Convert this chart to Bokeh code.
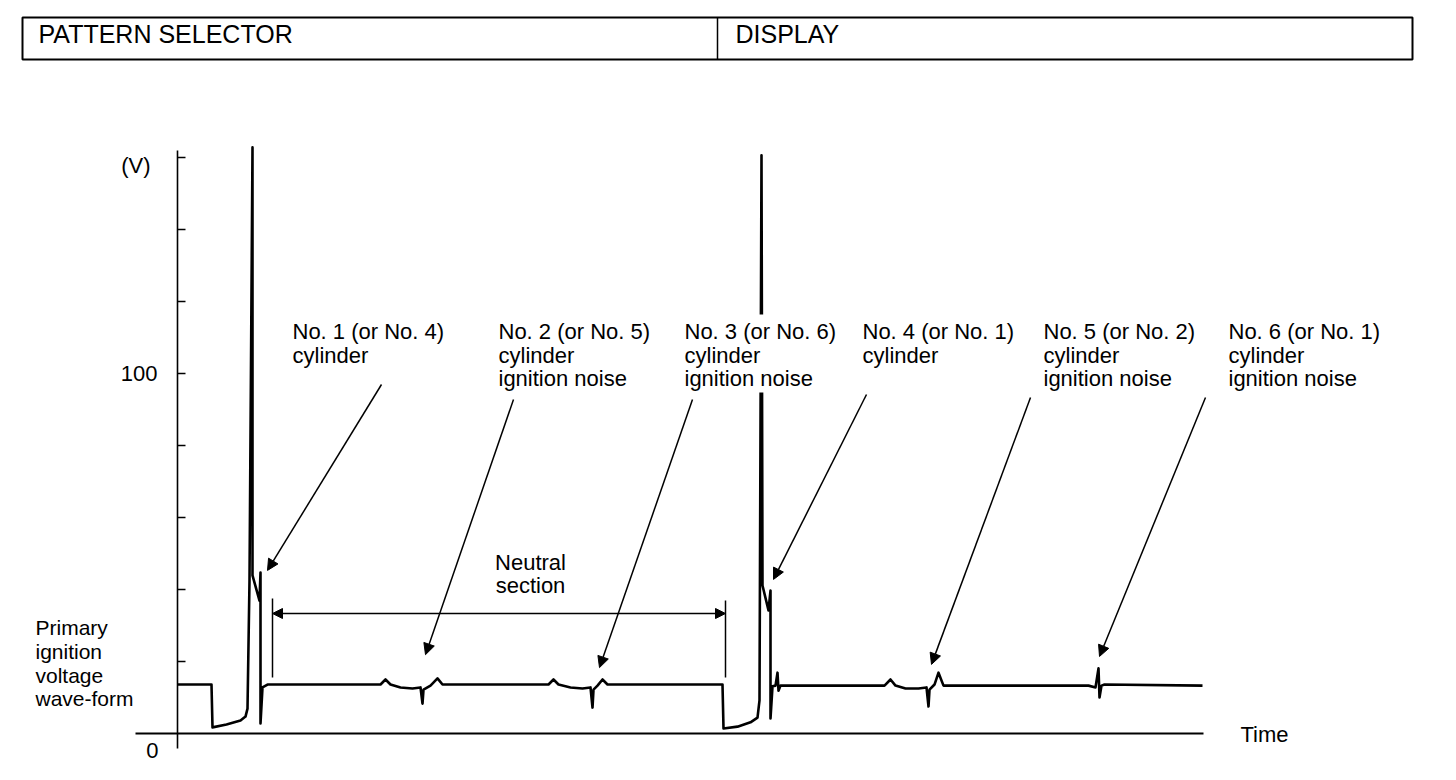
from bokeh.plotting import figure
from bokeh.models import Range1d, Arrow, NormalHead, ColumnDataSource
from bokeh.core.properties import value
from bokeh.embed import file_html
from bokeh.resources import INLINE

# ---------------- data (time in arbitrary units, voltage in V) ----------------
wave_time = [0, 34, 35, 49, 63, 68, 70, 72, 75, 75, 82, 83, 83, 85, 90,
             203, 208, 213, 223, 235, 243, 245, 246, 253, 260, 265,
             371, 376, 381, 393, 405, 413, 415, 416, 420, 425, 430,
             545, 546, 560, 573, 580, 582, 584, 585, 591, 593, 593, 595,
             598, 600, 601, 603,
             707, 713, 718, 728, 741, 749, 751, 752, 757, 761, 766,
             911, 918, 921, 922, 924, 927, 1025]
wave_volts = [13.6, 13.6, 1.7, 2.5, 3.6, 4.7, 6.9, 42.5, 162.8, 43.9, 36.9, 44.7, 2.8, 12.8, 13.6,
              13.6, 15.0, 13.6, 12.8, 12.5, 12.8, 8.3, 12.2, 13.3, 15.3, 13.6,
              13.6, 15.0, 13.6, 12.8, 12.5, 12.8, 7.2, 12.2, 13.3, 15.0, 13.6,
              13.6, 1.4, 1.9, 3.1, 4.4, 9.2, 160.6, 41.1, 34.2, 39.7, 4.2, 13.1,
              13.3, 16.9, 11.9, 13.3,
              13.3, 15.0, 13.3, 12.5, 12.5, 12.8, 7.5, 12.2, 13.6, 16.9, 13.3,
              13.3, 12.8, 18.1, 10.0, 13.3, 13.6, 13.3]

tick_values = [20, 40, 60, 80, 100, 120, 140, 160]
tick_label_values = [0, 100, 160]
tick_labels = ["0", "100", "(V)"]

header_labels = ["PATTERN SELECTOR", "DISPLAY"]

note_lines = [
    ["No. 1 (or No. 4)", "cylinder"],
    ["No. 2 (or No. 5)", "cylinder", "ignition noise"],
    ["No. 3 (or No. 6)", "cylinder", "ignition noise"],
    ["No. 4 (or No. 1)", "cylinder"],
    ["No. 5 (or No. 2)", "cylinder", "ignition noise"],
    ["No. 6  (or No. 1)", "cylinder", "ignition noise"],
]
# points on the wave-form that each note arrow points at (time, V)
note_target_time = [90, 248, 422, 596, 754, 922]
note_target_volts = [45.3, 21.9, 18.3, 42.8, 19.2, 21.4]

neutral_start_time = 95
neutral_end_time = 548
neutral_label = ["Neutral", "section"]
wave_label = ["Primary", "ignition", "voltage", "wave-form"]
time_label = "Time"

# ---------------- layout helpers (pixel -> data) ----------------
AX_PX, AX_PY, PX_PER_V = 177.0, 733.0, 3.6


def tx(px):
    return px - AX_PX


def vy(py):
    return (AX_PY - py) / PX_PER_V


W, H = 1440, 764
FONT = value("Liberation Sans")

p = figure(width=W, height=H, output_backend="svg", toolbar_location=None,
           x_range=Range1d(tx(0), tx(W)), y_range=Range1d(vy(H), vy(0)),
           x_axis_location=None, y_axis_location=None, min_border=0)
p.grid.visible = False
p.outline_line_color = None
p.background_fill_color = "white"
p.border_fill_color = "white"

# ---------------- header box ----------------
p.quad(left=[tx(22)], right=[tx(1412)], top=[vy(17)], bottom=[vy(59)],
       fill_color=None, line_color="black", line_width=2)
p.segment(x0=[tx(717)], y0=[vy(17)], x1=[tx(717)], y1=[vy(59)],
          line_color="black", line_width=1.5)
p.text(x=[tx(38), tx(735)], y=[vy(33), vy(33)], text=header_labels,
       text_font=FONT, text_font_size="25px", text_align="left",
       text_baseline="middle", text_color="black")

# ---------------- axes ----------------
p.segment(x0=[0], y0=[vy(150)], x1=[0], y1=[vy(748)], line_color="black", line_width=1.6)
p.segment(x0=[tx(135)], y0=[0], x1=[tx(1203)], y1=[0], line_color="black", line_width=1.8)
p.segment(x0=[0] * len(tick_values), y0=tick_values,
          x1=[tx(185)] * len(tick_values), y1=tick_values,
          line_color="black", line_width=1.5)
# tick labels
lab_x = [tx(158), tx(157), tx(150)]
lab_y = [vy(750), 100, vy(165)]
p.text(x=lab_x, y=lab_y, text=tick_labels, text_font=FONT, text_font_size="22px",
       text_align="right", text_baseline="middle", text_color="black")
p.text(x=[tx(1240)], y=[vy(734)], text=[time_label], text_font=FONT,
       text_font_size="22px", text_align="left", text_baseline="middle", text_color="black")

# ---------------- wave-form ----------------
src = ColumnDataSource(dict(t=wave_time, v=wave_volts))
p.line("t", "v", source=src, line_color="black", line_width=2.6, line_join="round")

# white backing behind the No. 3 note (the spike passes behind it)
p.quad(left=[tx(745)], right=[tx(780)], top=[vy(314)], bottom=[vy(392)],
       fill_color="white", line_color=None)

# ---------------- notes ----------------
note_left_px = [292, 498, 684, 862, 1043, 1228]
line_py = [331, 354.5, 378]
nx, ny, nt = [], [], []
for left, lines in zip(note_left_px, note_lines):
    for k, s in enumerate(lines):
        nx.append(tx(left))
        ny.append(vy(line_py[k]))
        nt.append(s)
p.text(x=nx, y=ny, text=nt, text_font=FONT, text_font_size="22px",
       text_align="left", text_baseline="middle", text_color="black")

arrow_start_px = [(381, 384), (513, 399), (692, 399), (866, 394), (1030, 397), (1205, 397)]
for (sx, sy), et, ev in zip(arrow_start_px, note_target_time, note_target_volts):
    p.add_layout(Arrow(end=NormalHead(size=11, fill_color="black", line_color="black"),
                       x_start=tx(sx), y_start=vy(sy), x_end=et, y_end=ev,
                       line_color="black", line_width=1.5))

# ---------------- neutral section ----------------
p.segment(x0=[neutral_start_time, neutral_end_time], y0=[vy(598), vy(600)],
          x1=[neutral_start_time, neutral_end_time], y1=[vy(677), vy(677)],
          line_color="black", line_width=1.5)
p.add_layout(Arrow(start=NormalHead(size=10, fill_color="black", line_color="black"),
                   end=NormalHead(size=10, fill_color="black", line_color="black"),
                   x_start=neutral_start_time, y_start=vy(613),
                   x_end=neutral_end_time, y_end=vy(613),
                   line_color="black", line_width=1.5))
p.text(x=[tx(530), tx(530)], y=[vy(562), vy(585)], text=neutral_label, text_font=FONT,
       text_font_size="22px", text_align="center", text_baseline="middle", text_color="black")

# ---------------- wave-form label ----------------
p.text(x=[tx(35)] * 4, y=[vy(627), vy(651), vy(674.5), vy(698)], text=wave_label,
       text_font=FONT, text_font_size="21px", text_align="left",
       text_baseline="middle", text_color="black")

open("out.html", "w").write(file_html(p, INLINE))
